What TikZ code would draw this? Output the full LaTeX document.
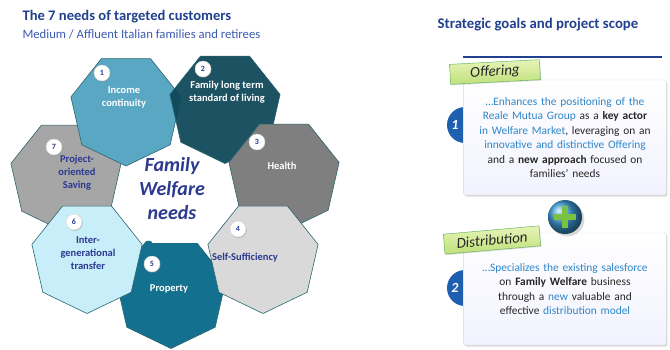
\documentclass[tikz,border=0pt]{standalone}
\usepackage{fontspec}
\setmainfont{Carlito}
\usetikzlibrary{shapes.geometric,shadows,positioning}
\definecolor{titleblue}{HTML}{21408E}
\definecolor{subblue}{HTML}{3B5BB0}
\definecolor{needblue}{HTML}{2B3990}
\definecolor{linkblue}{HTML}{2E86C8}
\definecolor{bodygray}{HTML}{262626}
\definecolor{edgeteal}{HTML}{2C6670}
\definecolor{needA}{HTML}{5AA7C4}
\definecolor{needB}{HTML}{0C4558}
\definecolor{needC}{HTML}{7F7F7F}
\definecolor{needD}{HTML}{D9D9D9}
\definecolor{needE}{HTML}{13718F}
\definecolor{needF}{HTML}{C8EEFA}
\definecolor{needG}{HTML}{A6A6A6}
\definecolor{discblue}{HTML}{1F5FAF}
\definecolor{tagtop}{HTML}{E6F4B8}
\definecolor{tagbot}{HTML}{BFE07A}
\definecolor{plusgreen}{HTML}{7CC242}
\definecolor{plusball}{HTML}{3C9AD8}

\begin{document}
\begin{tikzpicture}[x=1pt,y=1pt,
		need/.style={regular polygon, regular polygon sides=7, shape border rotate=180,
			minimum size=113pt, inner sep=0pt, draw=edgeteal, line width=0.6pt},
		hub/.style={regular polygon, regular polygon sides=7, minimum size=104pt,
			inner sep=0pt, fill=white},
		needtxt/.style={font=\bfseries\fontsize{10.5}{13}\selectfont, align=center, text=white},
		needtxtdark/.style={needtxt, text=needblue},
		badge/.style={circle, fill=white, draw=gray!35, minimum size=16pt, inner sep=0pt,
			font=\bfseries\fontsize{8}{8}\selectfont, text=needblue,
			drop shadow={opacity=0.35, shadow xshift=0.8pt, shadow yshift=-1pt}},
		goalbox/.style={rectangle, rounded corners=2pt, draw=gray!30, top color=white,
			bottom color=blue!5, minimum width=200pt, text width=196pt, align=center,
			font=\fontsize{11.4}{14.4}\selectfont, text=bodygray,
			drop shadow={opacity=0.3, shadow xshift=1pt, shadow yshift=-1.5pt}},
		numdisc/.style={circle, fill=discblue, minimum size=36pt, inner sep=0pt},
		numtxt/.style={font=\bfseries\itshape\fontsize{14}{15}\selectfont, text=white},
		tag/.style={draw=green!35!gray, top color=tagtop, bottom color=tagbot,
			minimum height=20pt, inner sep=2pt, text=bodygray,
			font=\itshape\fontsize{15}{16}\selectfont,
			drop shadow={opacity=0.25, shadow xshift=0.8pt, shadow yshift=-1pt}}]
		
		\useasboundingbox (0,0) rectangle (670,-349);
		\fill[white] (0,0) rectangle (670,-349);
		
		\node[anchor=west, font=\bfseries\fontsize{14.6}{16}\selectfont, text=titleblue]
		(title) at (19,-17) {The 7 needs of targeted customers};
		\node[anchor=west, font=\fontsize{12.7}{14}\selectfont, text=subblue]
		(subtitle) at (19,-34) {Medium / Affluent Italian families and retirees};
		\node[font=\bfseries\fontsize{14.8}{16}\selectfont, text=titleblue]
		(goals) at (538,-25) {Strategic goals and project scope};
		
		\node[need, fill=needG] (n7) at (66,-176) {};
		\node[need, fill=needA] (n1) at (126,-109.5) {};
		\node[need, fill=needB, fill opacity=0.93] (n2) at (225,-107) {};
		\node[need, fill=needC] (n3) at (284,-175) {};
		\node[need, fill=needE] (n5) at (171,-292) {};
		\node[need, fill=needD] (n4) at (263,-257) {};
		\node[need, fill=needF] (n6) at (87,-257) {};
		\node[hub] (hub) at (175,-196) {};
		
		\node[font=\bfseries\itshape\fontsize{20}{24}\selectfont, text=needblue, align=center]
		(hubtxt) at (172,-189) {Family\\Welfare\\needs};
		
		\node[needtxt] (t1) at (124,-97) {Income\\continuity};
		\node[needtxt] (t2) at (227,-92) {Family long term\\standard of living};
		\node[needtxt] (t3) at (282,-166) {Health};
		\node[needtxtdark] (t4) at (245,-258) {Self-Sufficiency};
		\node[needtxt] (t5) at (169,-289) {Property};
		\node[needtxtdark] (t6) at (88,-253) {Inter-\\generational\\transfer};
		\node[needtxtdark] (t7) at (77,-173) {Project-\\oriented\\Saving};
		
		\node[badge] (b1) at (102,-73) {1};
		\node[badge] (b2) at (203,-69) {2};
		\node[badge] (b3) at (257,-142) {3};
		\node[badge] (b4) at (238,-229) {4};
		\node[badge] (b5) at (152,-264) {5};
		\node[badge] (b6) at (74,-222) {6};
		\node[badge] (b7) at (54,-147) {7};
		
		\draw[titleblue, line width=2pt] (463,-57) -- (662,-57);
		
		\node[numdisc] (d1) at (465,-125) {};
		\node[numdisc] (d2) at (465,-288) {};
		
		\node[goalbox, minimum height=115pt] (box1) at (565,-137.5) {%
			\textcolor{linkblue}{…Enhances the positioning of the}\\
			\textcolor{linkblue}{Reale Mutua Group} as a \textbf{key actor}\\
			\textcolor{linkblue}{in Welfare Market}, leveraging on an\\
			\textcolor{linkblue}{innovative and distinctive Offering}\\
			and a \textbf{new approach} focused on\\
			families' needs};
		\node[goalbox, minimum height=112pt] (box2) at (565,-289) {%
			\textcolor{linkblue}{…Specializes the existing salesforce}\\
			on \textbf{Family Welfare} business\\
			through a \textcolor{linkblue}{new} valuable and\\
			effective \textcolor{linkblue}{distribution model}};
		
		\node[numtxt] (k1) at (455,-125) {1};
		\node[numtxt] (k2) at (455,-288) {2};
		
		\node[tag, minimum width=90pt, rotate=3] (offer) at (495,-72) {Offering};
		\node[tag, minimum width=96pt, rotate=5] (distr) at (492,-240) {Distribution};
		
		\node[circle, minimum size=34pt, shading=ball, ball color=plusball,
		drop shadow={opacity=0.3}] (plus) at (565,-217) {};
		\draw[plusgreen, line width=5.5pt] ([yshift=-6pt]plus.north) -- ([yshift=6pt]plus.south);
		\draw[plusgreen, line width=5.5pt] ([xshift=6pt]plus.west) -- ([xshift=-6pt]plus.east);
	\end{tikzpicture}
\end{document}
